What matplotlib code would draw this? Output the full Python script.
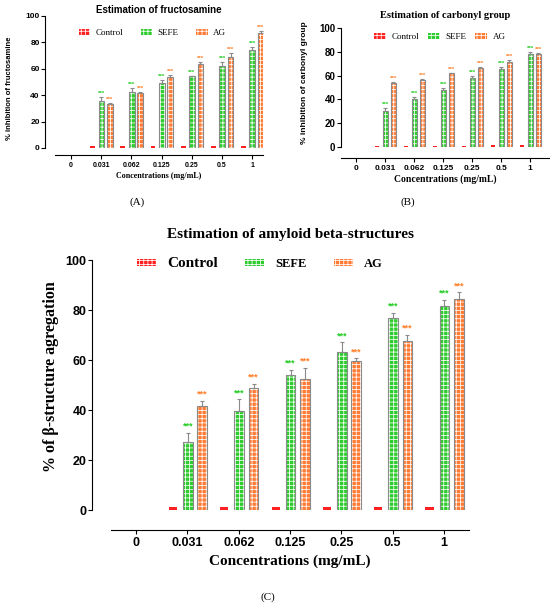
import numpy as np
import matplotlib
matplotlib.use('Agg')
import matplotlib.pyplot as plt
from matplotlib.patches import Patch

plt.rcParams['hatch.linewidth'] = 0.55

conc = ['0', '0.031', '0.062', '0.125', '0.25', '0.5', '1']

# fructosamine (A)
fru_ctrl = [0, 1.2, 1.2, 1.2, 1.2, 1.2, 1.2]
fru_sefe = [0, 35.4, 42.2, 49.0, 54.3, 62.0, 74.5]
fru_sefe_err = [0, 3.3, 3.3, 2.3, 0.5, 2.8, 2.0]
fru_ag = [0, 33.0, 41.4, 53.8, 63.9, 68.7, 87.4]
fru_ag_err = [0, 1.3, 1.3, 1.5, 1.5, 3.3, 1.5]

# carbonyl (B)
car_ctrl = [0, 1.2, 1.2, 1.2, 1.2, 1.5, 1.5]
car_sefe = [0, 30.4, 40.3, 47.9, 57.7, 65.6, 78.3]
car_sefe_err = [0, 2.8, 1.7, 1.4, 2.0, 2.0, 1.7]
car_ag = [0, 53.5, 56.3, 62.0, 66.8, 71.5, 78.0]
car_ag_err = [0, 1.1, 1.1, 0.6, 0.6, 1.7, 0.8]

# amyloid beta (C)
amy_ctrl = [0, 1.2, 1.2, 1.2, 1.2, 1.2, 1.2]
amy_sefe = [0, 27.2, 39.5, 54.0, 63.2, 76.7, 81.6]
amy_sefe_err = [0, 3.6, 4.8, 2.0, 3.9, 2.3, 2.4]
amy_ag = [0, 41.6, 49.0, 52.5, 59.5, 67.5, 84.3]
amy_ag_err = [0, 2.1, 1.5, 4.5, 1.2, 2.5, 2.8]

red = '#ff2020'
green = '#2ecc2e'
orange = '#ff7a33'
star_green = '#22cc22'
star_orange = '#ff7f27'
grey = '#8a8a8a'
HATCH = '++++'

SERIF = 'Liberation Serif'
SANS = 'Liberation Sans'


def panel(fig, rect, ctrl, sefe, sefe_err, ag, ag_err, xlim, left_out, bottom_out,
          ytick_fs, xtick_fs, star_fs):
    ax = fig.add_axes(rect)
    x = np.arange(len(conc))
    w = 0.19
    has = np.array(sefe) > 0
    ax.bar(x[has] - 0.28, np.array(ctrl)[has], 0.16, color=red, linewidth=0)
    for vals, off, col in [(sefe, 0.01, green), (ag, 0.29, orange)]:
        v = np.array(vals)[has]
        ax.bar(x[has] + off, v, w, facecolor=col, edgecolor='white', hatch=HATCH, linewidth=0)
        ax.bar(x[has] + off, v, w, fill=False, edgecolor=grey, linewidth=0.8)
    for vals, err, off, col in [(sefe, sefe_err, 0.01, star_green), (ag, ag_err, 0.29, star_orange)]:
        v = np.array(vals)[has]
        e = np.array(err)[has]
        ax.errorbar(x[has] + off, v, yerr=[np.zeros_like(e), e], fmt='none',
                    ecolor=grey, elinewidth=0.8, capsize=1.5, capthick=0.8)
        for xi, vi, ei in zip(x[has] + off, v, e):
            ax.text(xi, vi + ei + 0.8, '***', color=col, ha='center', va='bottom',
                    fontsize=star_fs, fontweight='bold', family=SANS)
    ax.set_xlim(*xlim)
    ax.set_ylim(0, 100)
    ax.set_yticks([0, 20, 40, 60, 80, 100])
    ax.set_xticks(x)
    ax.set_xticklabels(conc)
    for s in ['top', 'right']:
        ax.spines[s].set_visible(False)
    ax.spines['left'].set_position(('outward', left_out))
    ax.spines['bottom'].set_position(('outward', bottom_out))
    ax.tick_params(axis='y', labelsize=ytick_fs, length=3, width=0.8, pad=1)
    ax.tick_params(axis='x', labelsize=xtick_fs, length=3, width=0.8, pad=2)
    for lab in ax.get_xticklabels() + ax.get_yticklabels():
        lab.set_family(SANS)
        lab.set_fontweight('bold')
    return ax


def handles():
    return [Patch(facecolor=c, edgecolor='white', hatch=HATCH, linewidth=0)
            for c in (red, green, orange)]


fig = plt.figure(figsize=(5.5, 6.06), dpi=100)

# (A)
axA = panel(fig, [0.1, 0.7558, 0.378, 0.2178], fru_ctrl, fru_sefe, fru_sefe_err,
            fru_ag, fru_ag_err, (-0.53, 6.36), 7, 5, 6, 5, 4.5)
axA.set_title('Estimation of fructosamine', family=SANS, fontweight='bold', fontsize=7, pad=2)
axA.set_ylabel('% inhibition of fructosamine', family=SANS, fontweight='bold', fontsize=5.5)
axA.yaxis.set_label_coords(0.024, 0.855, transform=fig.transFigure)
axA.set_xlabel('Concentrations (mg/mL)', family=SERIF, fontweight='bold', fontsize=5.8, labelpad=2)
axA.legend(handles(), ['Control', 'SEFE', 'AG'], ncol=3, frameon=False,
           loc='center', bbox_to_anchor=(0.277, 0.9455), bbox_transform=fig.transFigure,
           prop={'family': SERIF, 'size': 6.5}, handlelength=1.3, handleheight=0.6,
           handletextpad=0.6, columnspacing=1.9, borderpad=0)
fig.text(0.25, 1 - 202 / 606, '(A)', family=SERIF, fontsize=8, ha='center', va='center')

# (B)
axB = panel(fig, [0.62, 0.7574, 0.38, 0.1964], car_ctrl, car_sefe, car_sefe_err,
            car_ag, car_ag_err, (-0.52, 6.69), 0, 8, 7, 6, 4.5)
axB.set_title('Estimation of carbonyl group', family=SERIF, fontweight='bold', fontsize=7.5, pad=7)
axB.set_ylabel('% inhibition of carbonyl group', family=SANS, fontweight='bold', fontsize=6)
axB.yaxis.set_label_coords(308 / 550, 1 - 83 / 606, transform=fig.transFigure)
axB.set_xlabel('Concentrations (mg/mL)', family=SERIF, fontweight='bold', fontsize=6.9, labelpad=2)
axB.legend(handles(), ['Control', 'SEFE', 'AG'], ncol=3, frameon=False,
           loc='center', bbox_to_anchor=(0.8, 0.939), bbox_transform=fig.transFigure,
           prop={'family': SERIF, 'size': 6.5}, handlelength=1.3, handleheight=0.6,
           handletextpad=0.6, columnspacing=1.0, borderpad=0)
fig.text(408 / 550, 1 - 202 / 606, '(B)', family=SERIF, fontsize=8, ha='center', va='center')

# (C)
axC = panel(fig, [0.2018, 0.1584, 0.651, 0.4125], amy_ctrl, amy_sefe, amy_sefe_err,
            amy_ag, amy_ag_err, (-0.49, 6.49), 13.7, 14.4, 9, 9, 6.5)
axC.set_title('Estimation of amyloid beta-structures', family=SERIF, fontweight='bold',
              fontsize=11, pad=16)
axC.set_ylabel('% of β-structure agregation', family=SERIF, fontweight='bold', fontsize=11.5)
axC.yaxis.set_label_coords(59 / 550, 1 - 377 / 606, transform=fig.transFigure)
axC.set_xlabel('Concentrations (mg/mL)', family=SERIF, fontweight='bold', fontsize=11, labelpad=4)
legC = axC.legend(handles(), ['Control', 'SEFE', 'AG'], ncol=3, frameon=False,
                  loc='center', bbox_to_anchor=(0.473, 0.566), bbox_transform=fig.transFigure,
                  prop={'family': SERIF, 'size': 9, 'weight': 'bold'}, handlelength=1.5,
                  handleheight=0.5, handletextpad=0.9, columnspacing=2.2, borderpad=0)
legC.get_texts()[0].set_fontsize(11)
fig.text(268 / 550, 1 - 597 / 606, '(C)', family=SERIF, fontsize=8, ha='center', va='center')

fig.savefig('out.png', dpi=100)
